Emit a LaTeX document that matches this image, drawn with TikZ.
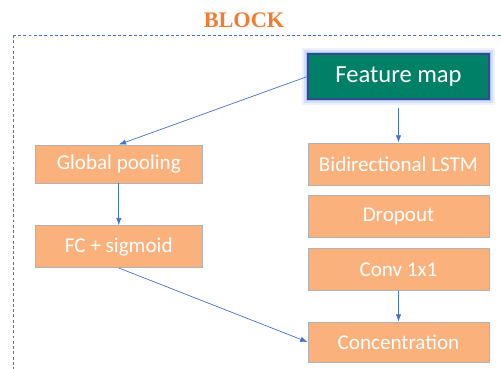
\documentclass[tikz,border=0pt]{standalone}
\usepackage{fontspec}
\setmainfont{Carlito}
\newfontfamily\titlefont{Liberation Serif}
\usetikzlibrary{positioning,arrows.meta}

\definecolor{featteal}{RGB}{0,128,102}
\definecolor{featedge}{RGB}{40,80,140}
\definecolor{glowblue}{RGB}{80,120,230}
\definecolor{layerorange}{RGB}{250,177,124}
\definecolor{linkblue}{RGB}{68,114,196}
\definecolor{titleorange}{RGB}{240,125,50}

\begin{document}
\begin{tikzpicture}[
  x=0.03cm, y=-0.03cm,
  node distance=3mm and 31.5mm,
  layer/.style={
    rectangle, draw=black!30, line width=0.6pt, fill=layerorange,
    text=white, font=\fontsize{18}{20}\selectfont,
    minimum width=5.43cm, minimum height=1.26cm, inner sep=0pt
  },
  feature/.style={
    rectangle, draw=featedge, line width=1pt, fill=featteal,
    text=white, font=\fontsize{21}{24}\selectfont,
    minimum width=5.43cm, minimum height=1.35cm, inner sep=0pt,
    preaction={draw=glowblue, line width=10pt, draw opacity=0.1, rounded corners=3pt},
    preaction={draw=glowblue, line width=7pt, draw opacity=0.15, rounded corners=2pt},
    preaction={draw=glowblue, line width=4pt, draw opacity=0.3}
  },
  heading/.style={
    text=titleorange, font=\titlefont\bfseries\fontsize{19}{21}\selectfont
  },
  frame/.style={draw=linkblue, line width=0.7pt, dash pattern=on 2.5pt off 2pt},
  link/.style={draw=linkblue, line width=0.6pt, -{Latex[length=2.2mm, width=1.6mm]}}
]
\clip (0,0) rectangle (501,369);

% Outer block
\draw[frame] (13.5,35) rectangle (530,400);
\node[heading] (blocktitle) at (244,20) {BLOCK};

% Right column
\node[feature] (fmap) at (398.5,76.5) {Feature map};
\node[layer, below=1.29cm of fmap] (lstm) {Bidirectional LSTM};
\node[layer, below=of lstm] (drop) {Dropout};
\node[layer, below=of drop] (conv) {Conv 1x1};
\node[layer, below=0.93cm of conv, minimum height=1.2cm] (concat) {Concentration};

% Left column
\node[layer, minimum width=5.01cm, minimum height=1.14cm, left=3.15cm of lstm] (gpool) {Global pooling};
\node[layer, minimum width=5.01cm, below=1.26cm of gpool] (fc) {FC + sigmoid};

\draw[link] (fmap.west) -- (gpool.north);
\draw[link, shorten <=2.4mm] (fmap.south) -- (lstm.north);
\draw[link] (gpool) -- (fc);
\draw[link] (fc.south) -- (concat.west);
\draw[link] (conv) -- (concat);
\end{tikzpicture}
\end{document}
